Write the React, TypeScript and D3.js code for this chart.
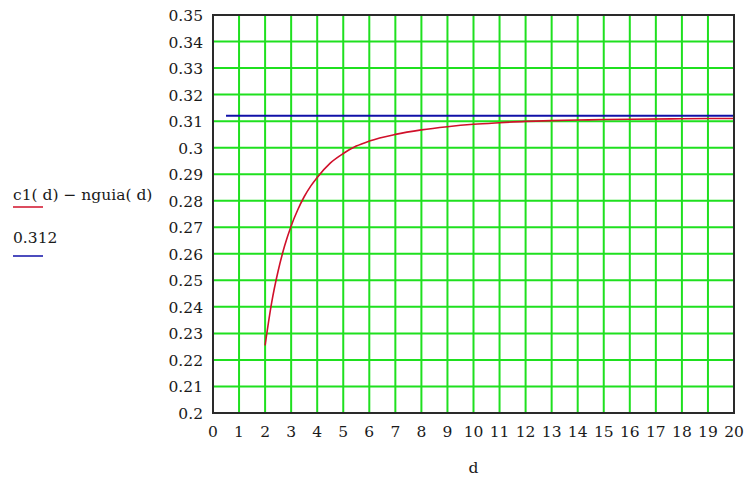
import React from "react";
import * as d3 from "d3";

// Sampled values of c1(d) − nguia(d)
const dValues = [2, 2.25, 2.5, 2.75, 3, 3.25, 3.5, 3.75, 4, 4.5, 5, 5.5, 6, 7, 8, 9, 10, 11, 12, 13, 14, 15, 16, 18, 20];
const diffValues = [0.2255, 0.2415, 0.2535, 0.263, 0.2705, 0.2765, 0.2815, 0.2855, 0.2888, 0.2942, 0.2978, 0.3006, 0.3025, 0.305, 0.3067, 0.3079, 0.3088, 0.3094, 0.3099, 0.3102, 0.3104, 0.3106, 0.3107, 0.3109, 0.311];

// Constant reference level
const constLevel = 0.312;
const constRange = [0.5, 20];

// Axis ticks
const xTicks = d3.range(0, 21);
const yTicks = [0.2, 0.21, 0.22, 0.23, 0.24, 0.25, 0.26, 0.27, 0.28, 0.29, 0.3, 0.31, 0.32, 0.33, 0.34, 0.35];

const legendLabels = ["c1( d) \u2212 nguia( d)", "0.312"];

const W = 748;
const H = 477;
const plot = { left: 213, right: 734, top: 15, bottom: 413 };
const FONT = "'DejaVu Serif', serif";

export default function App() {
  const x = d3.scaleLinear().domain([0, 20]).range([plot.left, plot.right]);
  const y = d3.scaleLinear().domain([0.2, 0.35]).range([plot.bottom, plot.top]);

  const curve = d3
    .line<number>()
    .x((_, i) => x(dValues[i]))
    .y((v) => y(v))
    .curve(d3.curveMonotoneX)(diffValues) as string;

  const txt = { fontFamily: FONT, fontSize: 15.5, fill: "#1a1a1a" } as React.CSSProperties;

  return (
    <svg width={W} height={H} style={{ position: "absolute", left: 0, top: 0, background: "#fff" }}>
      <rect x={0} y={0} width={W} height={H} fill="#fff" />
      {/* grid */}
      {xTicks.slice(1, -1).map((t) => (
        <line key={`gx${t}`} x1={x(t)} x2={x(t)} y1={plot.top} y2={plot.bottom} stroke="#1fe01f" strokeWidth={2} />
      ))}
      {yTicks.slice(1, -1).map((t) => (
        <line key={`gy${t}`} x1={plot.left} x2={plot.right} y1={y(t)} y2={y(t)} stroke="#1fe01f" strokeWidth={2} />
      ))}
      {/* series */}
      <line x1={x(constRange[0])} x2={x(constRange[1])} y1={y(constLevel)} y2={y(constLevel)} stroke="#1010a8" strokeWidth={2} />
      <path d={curve} fill="none" stroke="#d0102a" strokeWidth={1.6} />
      {/* frame */}
      <rect
        x={plot.left}
        y={plot.top}
        width={plot.right - plot.left}
        height={plot.bottom - plot.top}
        fill="none"
        stroke="#2a2a2a"
        strokeWidth={2}
      />
      {/* y tick labels */}
      {yTicks.map((t) => (
        <text key={`ty${t}`} x={203} y={y(t) + 6} textAnchor="end" style={txt}>
          {String(+t.toFixed(2))}
        </text>
      ))}
      {/* x tick labels */}
      {xTicks.map((t) => (
        <text key={`tx${t}`} x={x(t)} y={437} textAnchor="middle" style={txt}>
          {t}
        </text>
      ))}
      <text x={(plot.left + plot.right) / 2} y={473} textAnchor="middle" style={txt}>
        d
      </text>
      {/* legend */}
      <text x={13} y={200} style={txt}>
        {legendLabels[0]}
      </text>
      <line x1={13} x2={43} y1={207} y2={207} stroke="#d0102a" strokeWidth={1.5} />
      <text x={13} y={243} style={txt}>
        {legendLabels[1]}
      </text>
      <line x1={13} x2={43} y1={256} y2={256} stroke="#1010a8" strokeWidth={1.5} />
    </svg>
  );
}
